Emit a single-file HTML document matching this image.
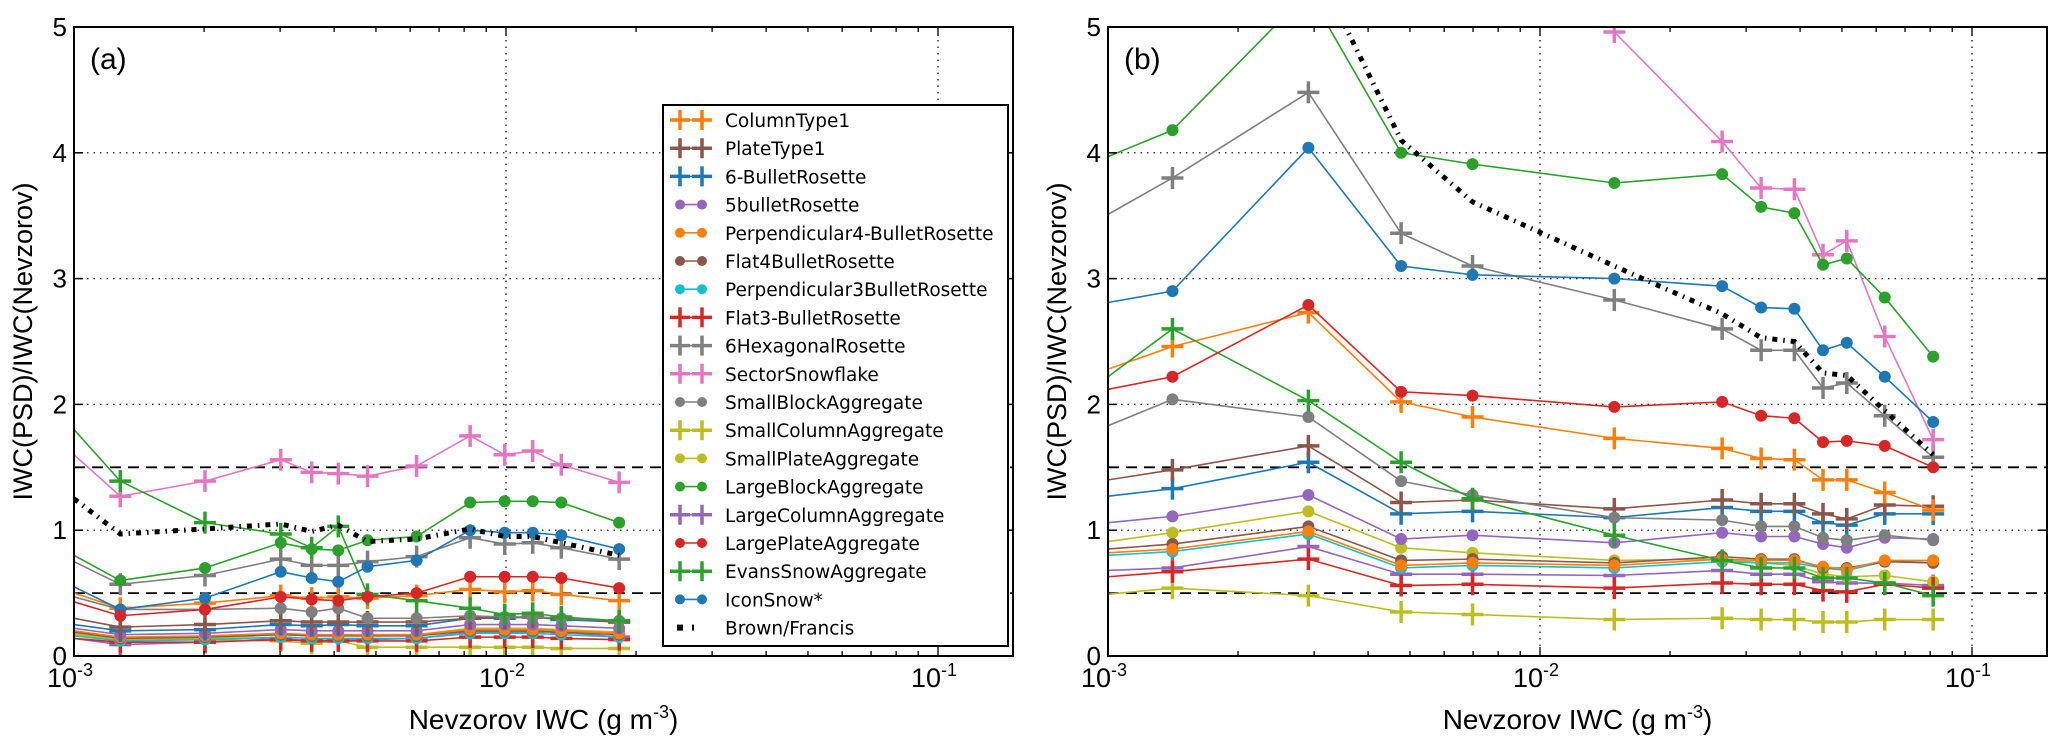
<!DOCTYPE html>
<html><head><meta charset="utf-8"><style>
html,body{margin:0;padding:0;background:#fff;}
svg{display:block;font-family:"Liberation Sans","DejaVu Sans",sans-serif;}
</style></head><body>
<svg id="chart" width="2067" height="747" viewBox="0 0 2067 747" xmlns="http://www.w3.org/2000/svg">
<defs>
<clipPath id="clipA"><rect x="74" y="27" width="939" height="629"/></clipPath>
<clipPath id="clipB"><rect x="1108" y="27" width="939" height="629"/></clipPath>
</defs>
<g id="root"></g>
</svg>
<script>
// ---- data ----
const seriesNames = ["ColumnType1","PlateType1","6-BulletRosette","5bulletRosette","Perpendicular4-BulletRosette","Flat4BulletRosette","Perpendicular3BulletRosette","Flat3-BulletRosette","6HexagonalRosette","SectorSnowflake","SmallBlockAggregate","SmallColumnAggregate","SmallPlateAggregate","LargeBlockAggregate","LargeColumnAggregate","LargePlateAggregate","EvansSnowAggregate","IconSnow*","Brown/Francis"];
const seriesColors = ["#ff7f0e","#8c564b","#1f77b4","#9467bd","#ff7f0e","#8c564b","#17becf","#d62728","#7f7f7f","#e377c2","#7f7f7f","#bcbd22","#bcbd22","#2ca02c","#9467bd","#d62728","#2ca02c","#1f77b4","#000000"];
const seriesMarkers = ["plus","plus","plus","dot","dot","dot","dot","plus","plus","plus","dot","plus","dot","dot","plus","dot","plus","dot","none"];
const xTickLabels = ["10","10","10"];
const xTickExps = ["-3","-2","-1"];
const xTickValues = [1e-3,1e-2,1e-1];
const yTickValues = [0,1,2,3,4,5];

const xA = [1e-3,1.28e-3,2.01e-3,3.01e-3,3.55e-3,4.09e-3,4.78e-3,6.21e-3,8.26e-3,9.93e-3,1.153e-2,1.343e-2,1.828e-2];
const aColumnType1 = [0.5,0.38,0.42,0.48,0.46,0.47,0.46,0.48,0.53,0.51,0.52,0.49,0.44];
const aPlateType1 = [0.3,0.23,0.25,0.28,0.27,0.27,0.27,0.27,0.3,0.31,0.31,0.3,0.27];
const aBullet6 = [0.25,0.2,0.21,0.25,0.24,0.25,0.24,0.24,0.3,0.3,0.31,0.29,0.27];
const aBullet5 = [0.22,0.17,0.18,0.21,0.2,0.2,0.2,0.2,0.25,0.25,0.25,0.24,0.22];
const aPerp4 = [0.2,0.15,0.16,0.18,0.17,0.17,0.17,0.17,0.21,0.21,0.21,0.2,0.18];
const aFlat4 = [0.19,0.14,0.15,0.17,0.16,0.16,0.16,0.16,0.2,0.2,0.2,0.19,0.17];
const aPerp3 = [0.16,0.12,0.13,0.15,0.14,0.14,0.14,0.14,0.18,0.18,0.18,0.17,0.15];
const aFlat3 = [0.14,0.11,0.11,0.13,0.12,0.12,0.12,0.12,0.15,0.15,0.15,0.14,0.13];
const aHex6 = [0.75,0.57,0.64,0.77,0.72,0.72,0.75,0.79,0.94,0.89,0.9,0.86,0.77];
const aSector = [1.6,1.27,1.39,1.56,1.46,1.45,1.43,1.51,1.75,1.6,1.63,1.52,1.38];
const aSmallBlock = [0.47,0.37,0.37,0.38,0.35,0.38,0.3,0.3,0.32,0.31,0.31,0.3,0.28];
const aSmallColumn = [0.17,0.13,0.13,0.12,0.1,0.12,0.07,0.07,0.07,0.07,0.07,0.06,0.06];
const aSmallPlate = [0.18,0.13,0.14,0.17,0.16,0.17,0.17,0.17,0.22,0.22,0.22,0.21,0.19];
const aLargeBlock = [0.8,0.6,0.7,0.9,0.85,0.84,0.92,0.95,1.22,1.23,1.23,1.22,1.06];
const aLargeColumn = [0.14,0.09,0.11,0.14,0.12,0.13,0.13,0.14,0.19,0.19,0.19,0.19,0.15];
const aLargePlate = [0.43,0.32,0.37,0.47,0.45,0.44,0.47,0.5,0.63,0.63,0.63,0.62,0.54];
const aEvans = [1.8,1.39,1.06,0.97,0.86,1.03,0.49,0.44,0.38,0.33,0.34,0.31,0.28];
const aIcon = [0.55,0.37,0.46,0.67,0.62,0.59,0.71,0.76,1.0,0.98,0.98,0.96,0.85];
const aBrown = [1.25,0.97,1.01,1.05,0.99,1.04,0.91,0.93,1.01,0.95,0.95,0.9,0.8];

const xB = [1e-3,1.41e-3,2.91e-3,4.77e-3,6.98e-3,1.486e-2,2.64e-2,3.25e-2,3.88e-2,4.52e-2,5.13e-2,6.28e-2,8.13e-2];
const bColumnType1 = [2.28,2.46,2.73,2.02,1.9,1.73,1.65,1.57,1.56,1.4,1.4,1.3,1.16];
const bPlateType1 = [1.4,1.48,1.67,1.22,1.24,1.17,1.24,1.21,1.21,1.13,1.09,1.2,1.19];
const bBullet6 = [1.27,1.33,1.54,1.13,1.15,1.1,1.18,1.15,1.15,1.06,1.04,1.13,1.13];
const bBullet5 = [1.06,1.11,1.28,0.93,0.96,0.9,0.98,0.95,0.95,0.89,0.86,0.94,0.93];
const bPerp4 = [0.82,0.85,0.99,0.72,0.74,0.72,0.77,0.76,0.76,0.71,0.69,0.76,0.76];
const bFlat4 = [0.85,0.89,1.03,0.76,0.77,0.74,0.79,0.77,0.77,0.7,0.7,0.75,0.74];
const bPerp3 = [0.8,0.83,0.97,0.7,0.72,0.7,0.75,0.74,0.74,0.7,0.68,0.75,0.76];
const bFlat3 = [0.63,0.67,0.77,0.56,0.57,0.54,0.58,0.57,0.57,0.52,0.51,0.57,0.54];
const bHex6 = [3.51,3.8,4.48,3.36,3.1,2.83,2.6,2.43,2.43,2.13,2.17,1.91,1.58];
const bSector = [null,null,null,null,null,4.96,4.09,3.72,3.71,3.19,3.3,2.54,1.72];
const bSmallBlock = [1.83,2.04,1.9,1.39,1.28,1.1,1.08,1.03,1.03,0.94,0.92,0.96,0.92];
const bSmallColumn = [0.49,0.54,0.48,0.35,0.33,0.29,0.3,0.29,0.29,0.27,0.27,0.29,0.29];
const bSmallPlate = [0.91,0.98,1.15,0.86,0.82,0.76,0.77,0.74,0.72,0.65,0.63,0.64,0.59];
const bLargeBlock = [3.97,4.18,5.28,4.0,3.91,3.76,3.83,3.57,3.52,3.11,3.16,2.85,2.38];
const bLargeColumn = [0.68,0.7,0.87,0.65,0.65,0.64,0.68,0.65,0.65,0.59,0.58,0.58,0.56];
const bLargePlate = [2.12,2.22,2.79,2.1,2.07,1.98,2.02,1.91,1.89,1.7,1.71,1.67,1.5];
const bEvans = [2.22,2.6,2.03,1.54,1.25,0.96,0.76,0.7,0.7,0.62,0.62,0.58,0.48];
const bIcon = [2.81,2.9,4.04,3.1,3.03,3.0,2.94,2.77,2.76,2.43,2.49,2.22,1.86];
const bBrown = [8,7,5.6,4.1,3.61,3.1,2.72,2.53,2.5,2.25,2.23,1.95,1.6];

const seriesA = [aColumnType1,aPlateType1,aBullet6,aBullet5,aPerp4,aFlat4,aPerp3,aFlat3,aHex6,aSector,aSmallBlock,aSmallColumn,aSmallPlate,aLargeBlock,aLargeColumn,aLargePlate,aEvans,aIcon,aBrown];
const seriesB = [bColumnType1,bPlateType1,bBullet6,bBullet5,bPerp4,bFlat4,bPerp3,bFlat3,bHex6,bSector,bSmallBlock,bSmallColumn,bSmallPlate,bLargeBlock,bLargeColumn,bLargePlate,bEvans,bIcon,bBrown];

// ---- drawing ----
const NS = "http://www.w3.org/2000/svg";
const root = document.getElementById('root');
function mk(tag, attrs, parent){ const e=document.createElementNS(NS,tag); for(const k in attrs) e.setAttribute(k,attrs[k]); (parent||root).appendChild(e); return e; }
const TOP=27, BOT=656, W=939, XMIN=-3, XMAX=-3+939/432, YMAX=5;
const drawOrder = [18,15,17,13,16,9,8,10,0,1,2,3,4,5,6,7,11,12,14].reverse();

function drawPanel(left, xs, series, clipId, tag, name){
  const g = mk('g',{});
  
  
  const sx = v => left + (Math.log10(v)-XMIN)/(XMAX-XMIN)*W;
  const sy = v => BOT - v/YMAX*(BOT-TOP);
  for(const t of [1,2,3,4]){
    const l = mk('line',{x1:left,x2:left+W,y1:sy(t),y2:sy(t),stroke:'#000','stroke-width':1.2,'stroke-dasharray':'1.5 5'},g);
     
  }
  for(const t of xTickValues.slice(1)){
    const l = mk('line',{x1:sx(t),x2:sx(t),y1:TOP,y2:BOT,stroke:'#000','stroke-width':1.2,'stroke-dasharray':'1.5 5'},g);
     
  }
  for(const t of [0.5,1.5]){
    const l = mk('line',{x1:left,x2:left+W,y1:sy(t),y2:sy(t),stroke:'#000','stroke-width':1.8,'stroke-dasharray':'11 7'},g);
     
  }
  const sg = mk('g',{'clip-path':'url(#'+clipId+')'},g);
  for(const i of drawOrder){
    const ys = series[i];
    const pts = [];
    xs.forEach((x,j)=>{ if(ys[j]!=null) pts.push([sx(x),sy(ys[j])]); });
    const isBrown = seriesMarkers[i]==='none';
    const p = mk('polyline',{points:pts.map(p=>p.join(',')).join(' '),fill:'none',stroke:seriesColors[i],
      'stroke-width':isBrown?5:1.6,'stroke-dasharray':isBrown?'5 6 1.5 6':'none'},sg);
    
    
    xs.forEach((x,j)=>{
      if(ys[j]==null || x<=1e-3) return;
      const cx=sx(x), cy=sy(ys[j]);
      if(seriesMarkers[i]==='plus'){
        const m = mk('path',{d:`M${cx-11},${cy}H${cx+11}M${cx},${cy-11}V${cy+11}`,stroke:seriesColors[i],'stroke-width':3.5,fill:'none'},sg);
         
      } else if(seriesMarkers[i]==='dot'){
        const m = mk('circle',{cx:cx,cy:cy,r:5.5,fill:seriesColors[i],stroke:seriesColors[i],'stroke-width':1},sg);
         
      }
    });
  }
  const fr = mk('rect',{x:left,y:TOP,width:W,height:BOT-TOP,fill:'none',stroke:'#000','stroke-width':2},g);
   
  yTickValues.forEach(t=>{
    mk('line',{x1:left,x2:left+9,y1:sy(t),y2:sy(t),stroke:'#000','stroke-width':1.5},g);
    mk('line',{x1:left+W,x2:left+W-9,y1:sy(t),y2:sy(t),stroke:'#000','stroke-width':1.5},g);
    const tx = mk('text',{x:left-7,y:sy(t)+9,'text-anchor':'end','font-size':26},g);
    tx.textContent = t;
     
  });
  for(let d=-3; d<=-1; d++){
    for(let k=1;k<=9;k++){
      const v = k*Math.pow(10,d); const lx = Math.log10(v);
      if(lx<XMIN-1e-9 || lx>XMAX) continue;
      const len = k===1?9:5;
      mk('line',{x1:sx(v),x2:sx(v),y1:BOT,y2:BOT-len,stroke:'#000','stroke-width':1.3},g);
      mk('line',{x1:sx(v),x2:sx(v),y1:TOP,y2:TOP+len,stroke:'#000','stroke-width':1.3},g);
    }
  }
  xTickValues.forEach((t,i)=>{
    const tx = mk('text',{x:sx(t)-4,y:BOT+31,'text-anchor':'middle','font-size':27},g);
     
    tx.appendChild(document.createTextNode(xTickLabels[i]));
    const sp = mk('tspan',{dy:-11,'font-size':18},tx); sp.textContent = xTickExps[i];
  });
  const xl = mk('text',{x:left+W/2,y:BOT+73,'text-anchor':'middle','font-size':28},g);
   
  xl.appendChild(document.createTextNode('Nevzorov IWC (g m'));
  const e = mk('tspan',{dy:-11,'font-size':18},xl); e.textContent='-3';
  const e2 = mk('tspan',{dy:11},xl); e2.textContent=')';
  const yl = mk('text',{x:0,y:0,'text-anchor':'middle','font-size':27,transform:`translate(${left-42},${(TOP+BOT)/2}) rotate(-90)`},g);
   
  yl.textContent='IWC(PSD)/IWC(Nevzorov)';
  const pl = mk('text',{x:left+16,y:TOP+42,'font-size':30},g);
   
  pl.textContent = tag;
}
drawPanel(74, xA, seriesA, 'clipA', '(a)', 'panel-a');
drawPanel(1108, xB, seriesB, 'clipB', '(b)', 'panel-b');

// legend
const lg = mk('g',{});
 
mk('rect',{x:663,y:105,width:345,height:541,fill:'#fff',stroke:'#000','stroke-width':2},lg);
seriesNames.forEach((n,i)=>{
  const y = 120 + i*28.2;
  const e = mk('g',{},lg);
   
  const c = seriesColors[i];
  if(seriesMarkers[i]==='none'){
    mk('rect',{x:677,y:y-3,width:6,height:6,fill:'#000'},e);
    mk('rect',{x:692,y:y-3,width:2,height:6,fill:'#000'},e);
  } else {
    mk('line',{x1:680,x2:702,y1:y,y2:y,stroke:c,'stroke-width':1.6},e);
    for(const mx of [680,702]){
      if(seriesMarkers[i]==='plus') mk('path',{d:`M${mx-10},${y}H${mx+10}M${mx},${y-10}V${y+10}`,stroke:c,'stroke-width':3.5},e);
      else mk('circle',{cx:mx,cy:y,r:5,fill:c},e);
    }
  }
  const t = mk('text',{x:725,y:y+7,'font-size':18.5,'font-family':'"DejaVu Sans","Liberation Sans",sans-serif'},e);
  t.textContent = n;
});
</script>
</body></html>
